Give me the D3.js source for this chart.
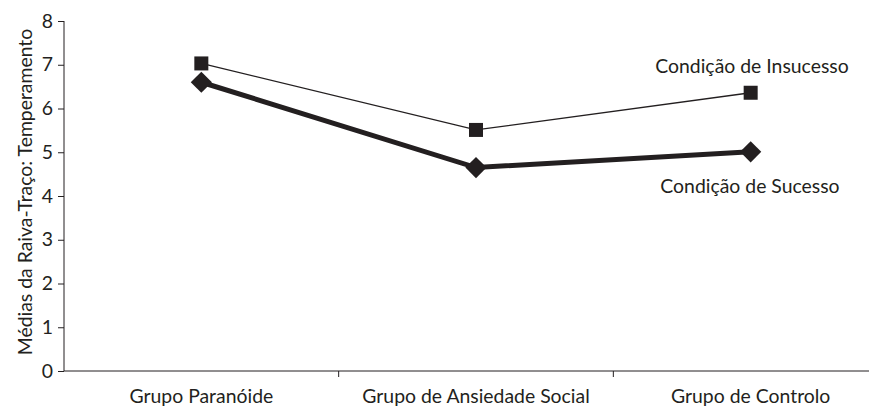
<!DOCTYPE html>
<html><head><meta charset="utf-8">
<script src="https://cdn.jsdelivr.net/npm/d3@7"></script>
<style>body{margin:0;background:#fff}text{font-family:Lato,"Open Sans",sans-serif;fill:#231f20}</style>
</head><body><svg id="c" width="869" height="409"></svg>
<script>
const categories = ["Grupo Paranóide", "Grupo de Ansiedade Social", "Grupo de Controlo"];
const insucesso = [7.03, 5.51, 6.36];
const sucesso = [6.6, 4.65, 5.01];
const yTicks = [0,1,2,3,4,5,6,7,8];
const yTitle = "Médias da Raiva-Traço: Temperamento";
const seriesLabels = ["Condição de Insucesso", "Condição de Sucesso"];

const svg = d3.select("#c");
const x = d3.scaleBand().domain(categories).range([64, 888]);
const y = d3.scaleLinear().domain([0, 8]).range([371, 21]);
const col = "#231f20";
const fs = 19.4;

// y axis
const ya = svg.append("g").attr("transform","translate(64,0)")
  .call(d3.axisLeft(y).tickValues(yTicks).tickSize(6).tickPadding(5).tickFormat(d3.format("d")));
ya.select(".domain").attr("stroke",col).attr("d","M0,21V371");
ya.selectAll(".tick line").attr("stroke",col);
ya.selectAll(".tick text").attr("font-size",fs).style("font-family","Lato").attr("fill",col);

// x axis
const xa = svg.append("g").attr("transform","translate(0,371)")
  .call(d3.axisBottom(x).tickSize(0).tickPadding(18));
xa.select(".domain").attr("stroke",col).attr("d","M64,0H869");
xa.selectAll(".tick text").attr("font-size",fs).style("font-family","Lato").attr("fill",col);
// boundary ticks between categories
svg.append("g").selectAll("line").data(categories.slice(1)).join("line")
  .attr("x1",d=>x(d)).attr("x2",d=>x(d)).attr("y1",371).attr("y2",377).attr("stroke",col);

svg.append("text").attr("transform","translate(32,192) rotate(-90)")
  .attr("text-anchor","middle").attr("font-size",fs).text(yTitle);

const cx = d => x(d) + x.bandwidth()/2;
const line = d3.line().x((d,i)=>cx(categories[i])).y(d=>y(d));

svg.append("path").datum(insucesso).attr("d",line).attr("fill","none").attr("stroke",col).attr("stroke-width",1.3);
svg.append("path").datum(sucesso).attr("d",line).attr("fill","none").attr("stroke",col).attr("stroke-width",5);

svg.append("g").selectAll("rect").data(insucesso).join("rect")
  .attr("x",(d,i)=>cx(categories[i])-7).attr("y",d=>y(d)-7).attr("width",14).attr("height",14).attr("fill",col);
svg.append("g").selectAll("path").data(sucesso).join("path")
  .attr("transform",(d,i)=>`translate(${cx(categories[i])},${y(d)}) rotate(45)`)
  .attr("d","M-7.5,-7.5H7.5V7.5H-7.5Z").attr("fill",col);

svg.append("text").attr("x",752).attr("y",73).attr("text-anchor","middle").attr("font-size",fs).text(seriesLabels[0]);
svg.append("text").attr("x",750).attr("y",193).attr("text-anchor","middle").attr("font-size",fs).text(seriesLabels[1]);
</script></body></html>
